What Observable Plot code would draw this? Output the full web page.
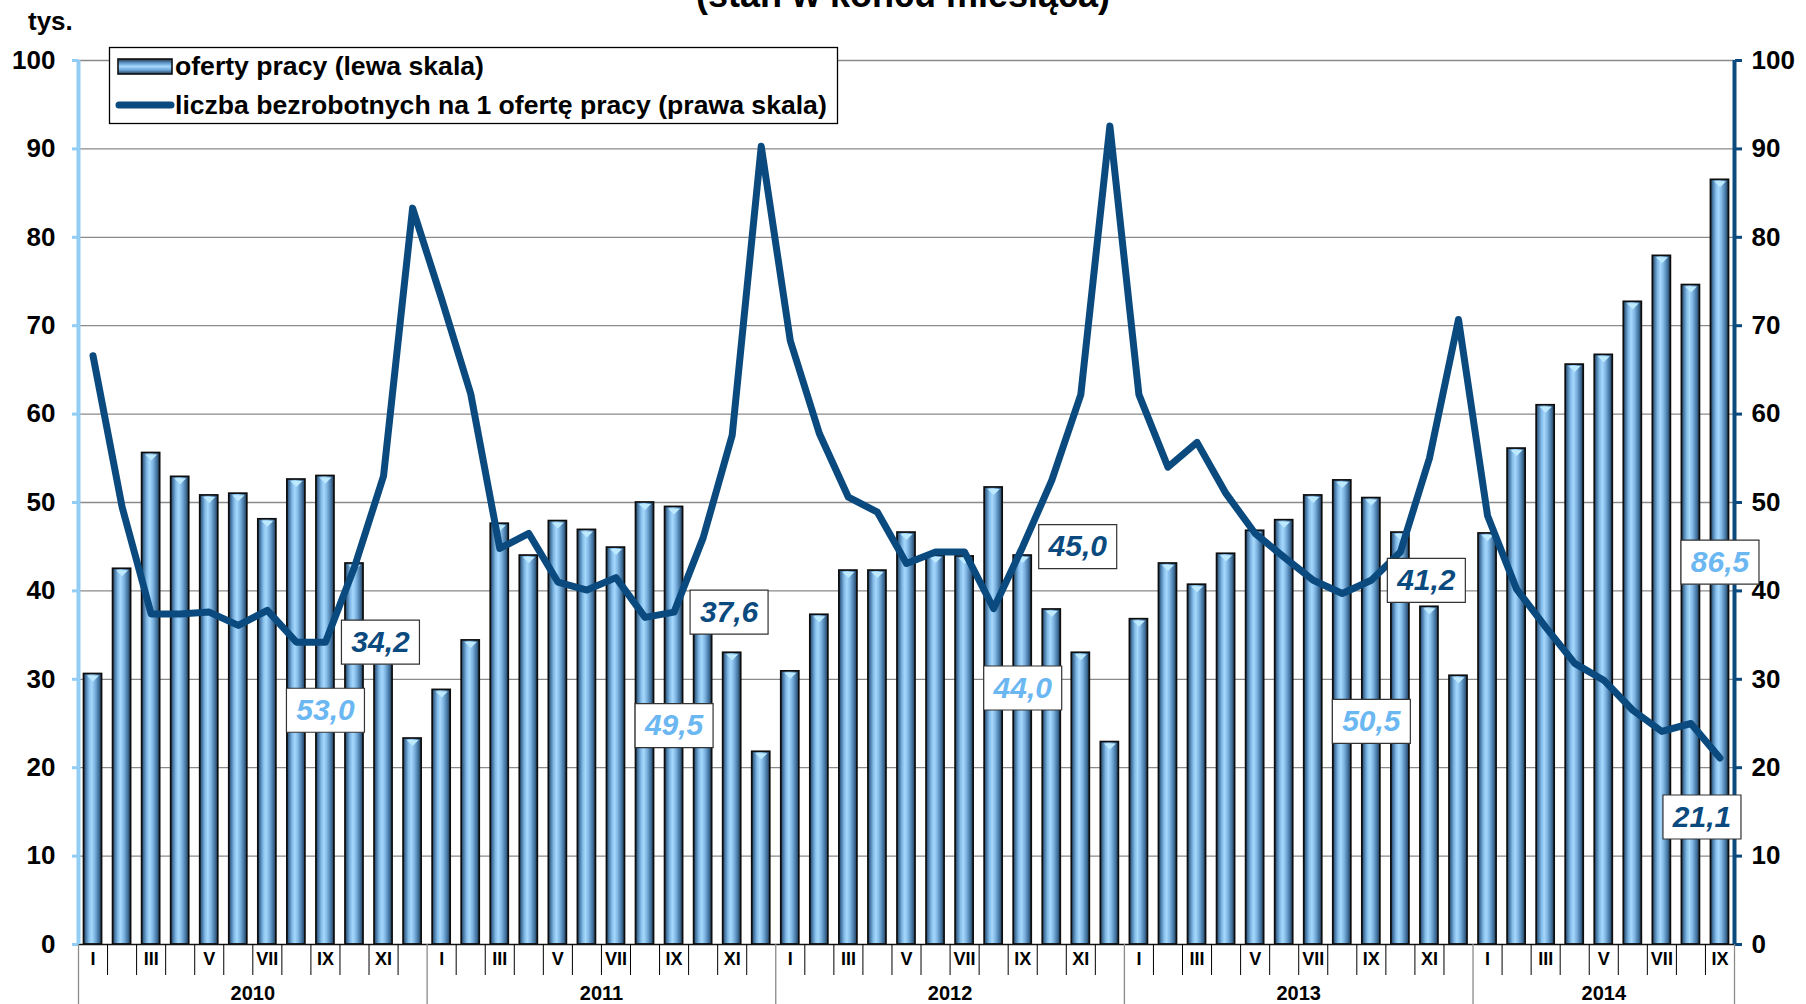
<!DOCTYPE html>
<html><head><meta charset="utf-8">
<script src="https://cdn.jsdelivr.net/npm/d3@7"></script>
<script src="https://cdn.jsdelivr.net/npm/@observablehq/plot@0.6"></script>
<style>
html,body{margin:0;padding:0;background:#fff;overflow:hidden;}
#wrap{position:relative;width:1806px;height:1004px;font-family:"Liberation Sans",Arial,sans-serif;color:#000;}
#chart svg{display:block;}
#title{position:absolute;left:0;top:-23px;width:1806px;text-align:center;font-size:36px;font-weight:bold;line-height:1;white-space:nowrap;}
#unit{position:absolute;left:28px;top:8px;font-size:26px;font-weight:bold;line-height:1;}
#legend{position:absolute;left:109px;top:47px;overflow:visible;}
</style></head>
<body>
<div id="wrap">
  <div id="chart"></div>
  <div id="title">(stan w końcu miesiąca)</div>
  <div id="unit">tys.</div>
  <svg id="legend" width="730" height="78" font-family="Liberation Sans, Arial, sans-serif">
    <defs>
      <linearGradient id="legGrad" x1="0" x2="0" y1="0" y2="1">
        <stop offset="0" stop-color="#1d3347"/>
        <stop offset="0.3" stop-color="#6aa3d6"/>
        <stop offset="0.5" stop-color="#a6d8fb"/>
        <stop offset="0.75" stop-color="#6aa3d6"/>
        <stop offset="1" stop-color="#1f3850"/>
      </linearGradient>
    </defs>
    <rect x="0.5" y="0.5" width="728" height="76" fill="#fff" stroke="#000" stroke-width="1.3"/>
    <rect x="9" y="12" width="54" height="15" fill="url(#legGrad)" stroke="#111" stroke-width="1.6"/>
    <text x="66" y="28" font-size="26.6" font-weight="bold">oferty pracy (lewa skala)</text>
    <line x1="10" x2="62" y1="58" y2="58" stroke="#0b4a7e" stroke-width="7" stroke-linecap="round"/>
    <text x="66" y="67" font-size="26.6" font-weight="bold">liczba bezrobotnych na 1 ofertę pracy (prawa skala)</text>
  </svg>
</div>
<script>
// ---- data ----
const years = [2010, 2011, 2012, 2013, 2014];
const monthNames = ["I", "II", "III", "IV", "V", "VI", "VII", "VIII", "IX", "X", "XI", "XII"];
const yTicks = [0, 10, 20, 30, 40, 50, 60, 70, 80, 90, 100];

// oferty pracy (tys.), lewa skala
const offers = [
  30.6, 42.5, 55.6, 52.9, 50.8, 51.0, 48.1, 52.6, 53.0, 43.1, 34.0, 23.3,
  28.8, 34.4, 47.6, 44.0, 47.9, 46.9, 44.9, 50.0, 49.5, 36.5, 33.0, 21.8,
  30.9, 37.3, 42.3, 42.3, 46.6, 44.0, 43.9, 51.7, 44.0, 37.9, 33.0, 22.9,
  36.8, 43.1, 40.7, 44.2, 46.8, 48.0, 50.8, 52.5, 50.5, 46.6, 38.2, 30.4,
  46.5, 56.1, 61.0, 65.6, 66.7, 72.7, 77.9, 74.6, 86.5
];
// liczba bezrobotnych na 1 ofertę pracy, prawa skala
const ratio = [
  66.6, 49.5, 37.4, 37.4, 37.6, 36.1, 37.8, 34.2, 34.2, 42.7, 53.0, 83.3,
  73.0, 62.3, 44.8, 46.5, 41.0, 40.1, 41.5, 37.0, 37.6, 46.0, 57.6, 90.3,
  68.3, 57.8, 50.6, 48.9, 43.1, 44.4, 44.4, 38.0, 45.0, 52.5, 62.2, 92.6,
  62.2, 54.0, 56.8, 51.0, 46.5, 43.8, 41.2, 39.7, 41.2, 44.4, 55.0, 70.7,
  48.5, 40.2, 35.9, 31.8, 29.9, 26.5, 24.1, 25.0, 21.1
];
// labelled month: September (index 8) of each year
const labelMonth = 8;

// ---- derived tables ----
const n = offers.length;
const rows = offers.map((v, i) => ({i, offers: v, ratio: ratio[i]}));
const fmt = v => v.toFixed(1).replace(".", ",");
const sepIdx = years.map((y, k) => k * 12 + labelMonth).filter(i => i < n);
const lineLab = sepIdx.map(i => ({x: i + 0.5, y: ratio[i], t: fmt(ratio[i])}));
const barLab = sepIdx.map(i => ({x: i + 0.5, y: offers[i] / 2, t: fmt(offers[i])}));

const monthBounds = d3.range(1, n).filter(b => b % 12 !== 0);
const yearBounds = d3.range(0, n, 12).concat([n]);
const monthLabelPos = d3.range(0, n).filter(i => (i % 12) % 2 === 0).map(i => i + 0.5);
const yearCenters = years.map((y, k) => (k * 12 + Math.min(n, k * 12 + 12)) / 2);

const boxSym = {draw(ctx) { ctx.rect(-39, -22, 78, 44); }};
const triSym = {draw(ctx) { ctx.moveTo(-6, 0); ctx.lineTo(6, 0); ctx.lineTo(0, 6); ctx.closePath(); }};

const dark = "#0b4a7e", light = "#6bb7f2", axisLight = "#92cdf5";
const labText = {x: "x", y: "y", text: "t", fontSize: 30, fontStyle: "italic", fontWeight: "bold"};
const boxOpt = {x: "x", y: "y", symbol: boxSym, fill: "white", stroke: "#333", strokeWidth: 1.2};

const chart = Plot.plot({
  width: 1806, height: 1004,
  marginLeft: 78, marginRight: 72, marginTop: 60, marginBottom: 60,
  x: {domain: [0, n], axis: null},
  y: {domain: [0, 100], axis: null},
  style: {fontFamily: "Liberation Sans, Arial, sans-serif", background: "white", overflow: "visible", color: "#000"},
  marks: [
    Plot.gridY(yTicks.filter(d => d > 0), {stroke: "#8a8a8a", strokeOpacity: 1, strokeWidth: 1.3}),
    Plot.rectY(rows, {x1: "i", x2: d => d.i + 1, y: "offers", insetLeft: 5.5, insetRight: 5.5,
      fill: "url(#barGrad)", stroke: "#0d0d0d", strokeWidth: 1.7}),
    Plot.dot(rows, {x: d => d.i + 0.5, y: "offers", symbol: triSym, fill: "#bdeaff", stroke: "none", dy: 1.5}),
    Plot.ruleY([0], {stroke: "#111", strokeWidth: 1.5}),
    Plot.line(rows, {x: d => d.i + 0.5, y: "ratio", stroke: dark, strokeWidth: 7,
      strokeLinejoin: "round", strokeLinecap: "round"}),
    // axis lines
    Plot.ruleX([0], {y1: 0, y2: 100, stroke: axisLight, strokeWidth: 4}),
    Plot.ruleX([n], {y1: 0, y2: 100, stroke: dark, strokeWidth: 4}),
    Plot.axisY(yTicks, {anchor: "left", tickSize: 6, tickPadding: 17, stroke: axisLight, strokeWidth: 3,
      fill: "#000", fontSize: 26, fontWeight: "bold", label: null}),
    Plot.axisY(yTicks, {anchor: "right", tickSize: 7, tickPadding: 10, stroke: dark, strokeWidth: 3,
      fill: "#000", fontSize: 26, fontWeight: "bold", label: null}),
    // category axis
    Plot.axisX(monthBounds, {anchor: "bottom", tickSize: 31, tickFormat: () => "", stroke: "#000", label: null}),
    Plot.axisX(yearBounds, {anchor: "bottom", tickSize: 60, tickFormat: () => "", stroke: "#8a8a8a", strokeWidth: 1.3, label: null}),
    Plot.axisX(monthLabelPos, {anchor: "bottom", tickSize: 0, tickPadding: 8, label: null,
      tickFormat: d => monthNames[Math.floor(d) % 12], fontSize: 18, fontWeight: "bold", fill: "#000"}),
    Plot.axisX(yearCenters, {anchor: "bottom", tickSize: 0, tickPadding: 41, label: null,
      tickFormat: d => String(years[Math.floor(d / 12)]), fontSize: 20, fontWeight: "bold", fill: "#000"}),
    // data labels: bars (light)
    Plot.dot(barLab.filter((d, k) => k !== 2), boxOpt),
    Plot.text(barLab.filter((d, k) => k !== 2), {...labText, fill: light}),
    Plot.dot(barLab.filter((d, k) => k === 2), {...boxOpt, dy: -62}),
    Plot.text(barLab.filter((d, k) => k === 2), {...labText, fill: light, dy: -62}),
    // data labels: line (dark)
    Plot.dot(lineLab.slice(0, -1), {...boxOpt, dx: 55}),
    Plot.text(lineLab.slice(0, -1), {...labText, fill: dark, dx: 55}),
    Plot.dot(lineLab.slice(-1), {...boxOpt, dx: -18, dy: 59}),
    Plot.text(lineLab.slice(-1), {...labText, fill: dark, dx: -18, dy: 59})
  ]
});

const ns = "http://www.w3.org/2000/svg";
const defs = document.createElementNS(ns, "defs");
const grad = document.createElementNS(ns, "linearGradient");
grad.setAttribute("id", "barGrad");
grad.setAttribute("x1", "0"); grad.setAttribute("x2", "1");
grad.setAttribute("y1", "0"); grad.setAttribute("y2", "0");
[["0", "#1d3347"], ["0.1", "#3d6b96"], ["0.3", "#84bdea"], ["0.45", "#a6d8fb"],
 ["0.62", "#7fb6e4"], ["0.85", "#41719d"], ["1", "#1f3850"]].forEach(([o, c]) => {
  const s = document.createElementNS(ns, "stop");
  s.setAttribute("offset", o); s.setAttribute("stop-color", c);
  grad.appendChild(s);
});
defs.appendChild(grad);
chart.insertBefore(defs, chart.firstChild);
document.getElementById("chart").appendChild(chart);
</script>
</body></html>
